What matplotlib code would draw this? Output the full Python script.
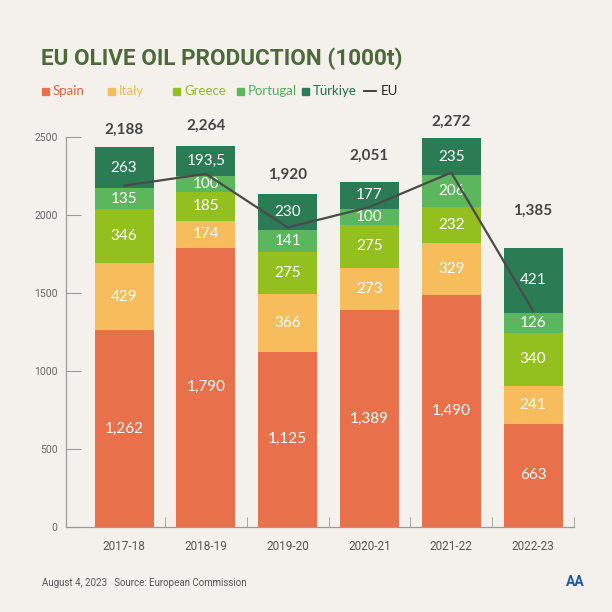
import matplotlib
matplotlib.use("Agg")
import matplotlib.pyplot as plt
import numpy as np

seasons = ["2017-18", "2018-19", "2019-20", "2020-21", "2021-22", "2022-23"]
spain = [1262, 1790, 1125, 1389, 1490, 663]
italy = [429, 174, 366, 273, 329, 241]
greece = [346, 185, 275, 275, 232, 340]
portugal = [135, 100, 141, 100, 206, 126]
turkiye = [263, 193.5, 230, 177, 235, 421]
eu_total = [2188, 2264, 1920, 2051, 2272, 1385]

series_names = ["Spain", "Italy", "Greece", "Portugal", "Türkiye"]
series_vals = [spain, italy, greece, portugal, turkiye]
colors = ["#E8704A", "#F7BC5C", "#93C01F", "#5CB65E", "#2B7B55"]
text_colors = ["#E8603A", "#F5B94A", "#8DBA1E", "#4FB05A", "#2B6B4B"]

W, H = 612, 612
fig = plt.figure(figsize=(6.12, 6.12), dpi=100)
fig.patch.set_facecolor("#F4F1EC")

def px(x, y):
    return x / W, 1 - y / H

ax = fig.add_axes([66 / W, 1 - 527 / H, (574 - 66) / W, (527 - 137) / H])
ax.set_facecolor("none")
x = np.arange(len(seasons))
bottom = np.zeros(len(seasons))
for name, vals, c in zip(series_names, series_vals, colors):
    v = np.array(vals, dtype=float)
    ax.bar(x, v, bottom=bottom, width=0.72, color=c, zorder=2)
    for xi, b, val in zip(x, bottom, v):
        if val == int(val):
            s = f"{int(val):,}"
        else:
            s = f"{val:.1f}".replace(".", ",")
        ax.text(xi, b + val / 2, s, ha="center", va="center", color="white",
                fontsize=11, family="Lato", zorder=3)
    bottom += v

ax.plot(x, eu_total, color="#4A4A4A", lw=1.6, zorder=4)

label_offsets = [17, 20, 19, 26, 16, 37]
for xi, top, tot, off in zip(x, bottom, eu_total, label_offsets):
    ax.annotate(f"{tot:,}", (xi, top), xytext=(0, off), textcoords="offset pixels",
                ha="center", va="center", fontsize=11, fontweight="bold",
                color="#454545", family="Lato", annotation_clip=False)

ax.set_xlim(-0.71, 5.5)
ax.set_ylim(0, 2500)
for s in ["top", "right"]:
    ax.spines[s].set_visible(False)
for s in ["left", "bottom"]:
    ax.spines[s].set_color("#9A9A9A")
    ax.spines[s].set_linewidth(0.9)
ax.set_yticks([0, 500, 1000, 1500, 2000, 2500])
ax.tick_params(axis="y", direction="in", length=11, color="#9A9A9A",
               labelsize=7.5, labelcolor="#666666", pad=6)
ax.set_xticks(x)
ax.set_xticklabels(seasons)
ax.tick_params(axis="x", length=0, labelsize=8.5, labelcolor="#555555", pad=9)
ax.set_xticks(np.arange(0.5, 6, 1), minor=True)
ax.tick_params(axis="x", which="minor", direction="in", length=7, color="#9A9A9A")
for lbl in ax.get_yticklabels() + ax.get_xticklabels():
    lbl.set_family("Roboto")

# Title
fig.text(*px(41, 59), "EU OLIVE OIL PRODUCTION (1000t)", ha="left", va="center",
         fontsize=16.2, fontweight="bold", color="#4B6A37",
         family=["Liberation Sans Narrow", "Roboto"])

# Legend
leg_sq_x = [42, 108, 173, 237, 302]
leg_y = 91
for sx, name, c, tc in zip(leg_sq_x, series_names, colors, text_colors):
    fig.patches.append(plt.Rectangle(px(sx, leg_y + 3.5), 7 / W, 7 / H,
                                     transform=fig.transFigure, color=c))
    fig.text(*px(sx + 11, leg_y), name, ha="left", va="center", fontsize=9.5,
             color=tc, family="Lato")
fig.lines.append(plt.Line2D([364 / W, 376 / W], [1 - leg_y / H] * 2,
                            transform=fig.transFigure, color="#333333", lw=1.3))
fig.text(*px(381, leg_y), "EU", ha="left", va="center", fontsize=9.5,
         color="#222222", family="Lato")

# Footer
fig.text(*px(42, 583), "August 4, 2023   Source: European Commission", ha="left",
         va="center", fontsize=7, color="#555555", family="Roboto")
fig.text(*px(575, 582), "AA", ha="center", va="center", fontsize=10,
         fontweight="bold", color="#1E57A8", family="Roboto")

fig.savefig("out.png", dpi=100, facecolor=fig.get_facecolor())
